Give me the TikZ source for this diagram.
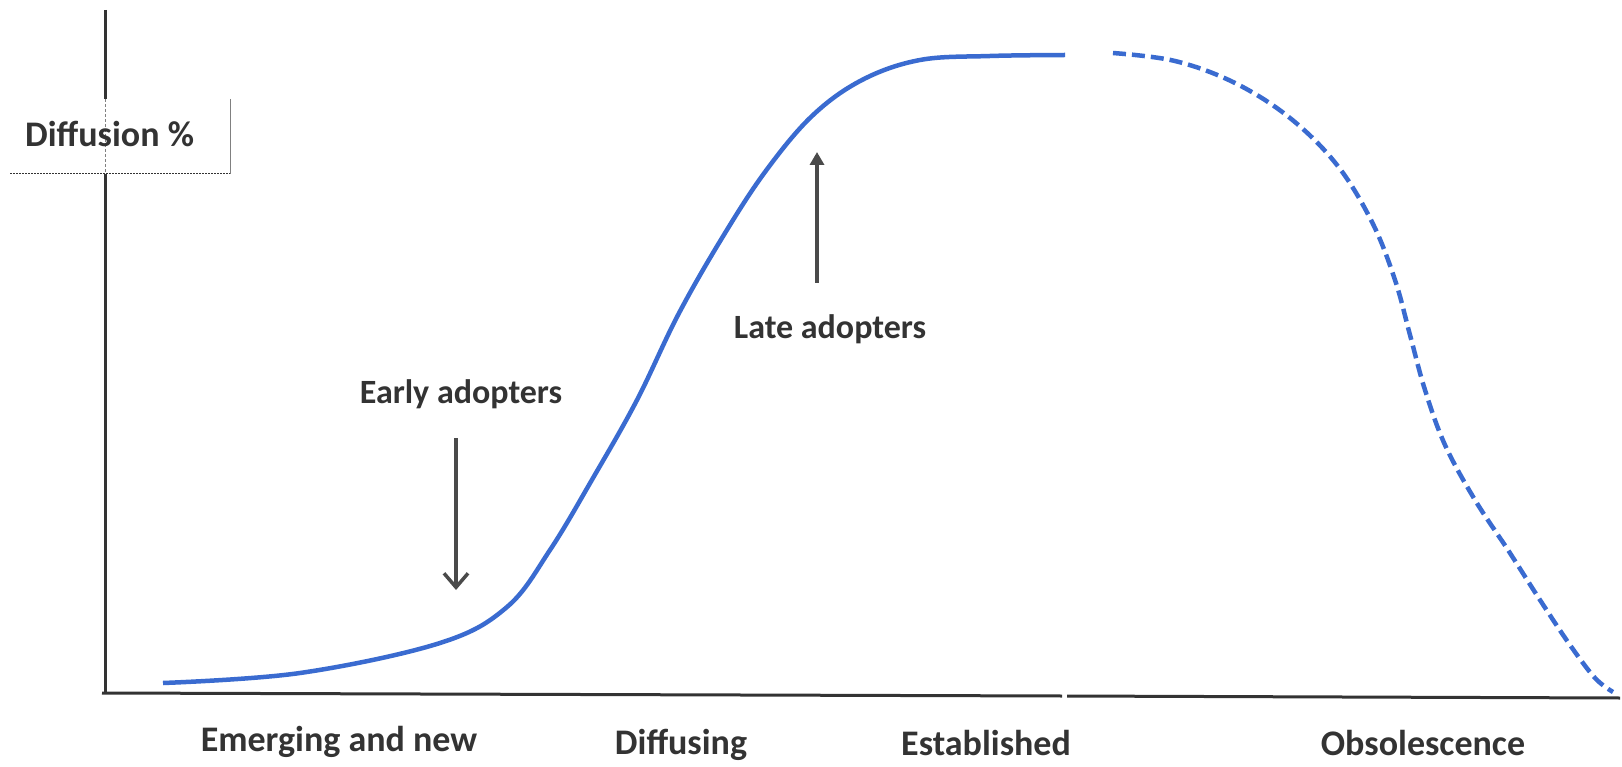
\documentclass[tikz,border=0pt]{standalone}
\usepackage{fontspec}
\setmainfont{Carlito}
\usetikzlibrary{arrows.meta}
\definecolor{curveblue}{HTML}{3A6BD0}
\definecolor{inkgray}{HTML}{333333}
\definecolor{arrowgray}{HTML}{4A4A4A}

\begin{document}
\begin{tikzpicture}[x=1pt,y=-1pt,
  axisline/.style={line width=3pt,inkgray},
  adoption/.style={line width=4.5pt,curveblue},
  pointer/.style={line width=3.5pt,arrowgray},
  stagelabel/.style={inkgray,font=\fontsize{36}{40}\selectfont\bfseries,inner sep=0pt,anchor=base},
  grouplabel/.style={inkgray,font=\fontsize{34}{38}\selectfont\bfseries,inner sep=0pt,anchor=base}]
\useasboundingbox (0,0) rectangle (1622,767);

% axes
\draw[axisline] (105,10) -- (105,99);
\draw[axisline] (105,174) -- (105,694);
\draw[axisline] (102,693) -- (1062,696);
\draw[axisline] (1067,696) -- (1620,698);

% label box
\draw[gray,line width=0.6pt,dash pattern=on 3pt off 2pt] (105,99) -- (105,174);
\draw[gray,line width=0.8pt] (230,99) -- (230,174);
\draw[inkgray,line width=1pt,dash pattern=on 2pt off 1pt] (10,174) -- (230,174);
\node[stagelabel,anchor=base west] (ylabel) at (25,147) {Diffusion \%};

% curve
\draw[adoption] plot[smooth,tension=0.6] coordinates {(163,683) (300,673) (440,643) (507,607)
  (550,550) (593,478) (637,400) (678,315) (722,238) (765,172) (812,116) (862,80) (920,60)
  (990,56) (1065,55)};
\draw[adoption,dash pattern=on 13pt off 6pt] plot[smooth,tension=0.6] coordinates {(1113,53)
  (1175,61) (1235,83) (1290,118) (1337,165) (1372,222) (1395,280) (1410,335) (1425,390)
  (1445,445) (1475,500) (1508,550) (1540,600) (1570,645) (1595,678) (1613,692)};

% adopters
\node[grouplabel] (early) at (461,403) {Early adopters};
\node[grouplabel] (late) at (830,338) {Late adopters};
\coordinate (earlytop) at (456,438);
\coordinate (earlytip) at (456,590);
\coordinate (latebot) at (817,283);
\coordinate (latetip) at (817,152);
\draw[pointer,-{Straight Barb[length=14pt,width=24pt,line width=3.5pt]}] (earlytop) -- (earlytip);
\draw[pointer,-{Triangle[length=13pt,width=14pt]}] (latebot) -- (latetip);

% stages
\node[stagelabel] (emerging) at (339,751) {Emerging and new};
\node[stagelabel] (diffusing) at (681,754) {Diffusing};
\node[stagelabel] (established) at (986,755) {Established};
\node[stagelabel] (obsolete) at (1423,755) {Obsolescence};
\end{tikzpicture}
\end{document}
